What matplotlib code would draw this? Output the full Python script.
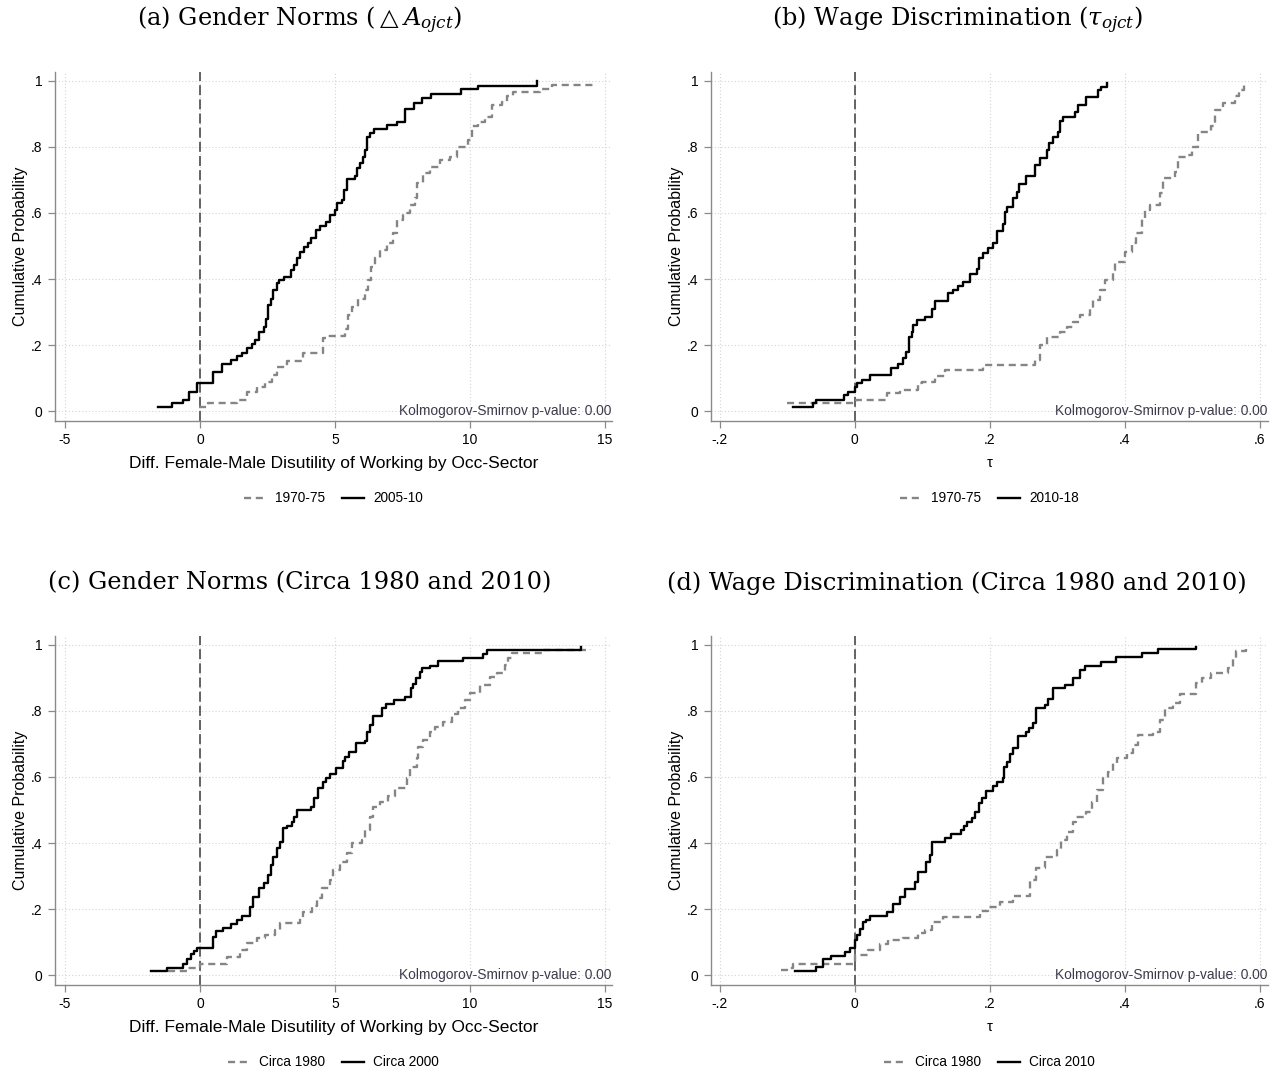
#-------------------------------------------------------------------------------------------------------------------
# Cumulative distributions of gender norms and wage discrimination across occupation-sector cells
#-------------------------------------------------------------------------------------------------------------------

import matplotlib
matplotlib.use('Agg')
import matplotlib.pyplot as plt                                      # plotting library

#==================================================================================================================#
# DATA (step corners of each empirical CDF: x value, cumulative probability)
#==================================================================================================================#

# (a) gender norms, 1970-75 vs 2005-10
norms_a_old_x = [-0.02, 0.31, 1.36, 1.73, 2.10, 2.41, 2.65, 2.84, 3.21, 3.83, 4.57, 4.75, 5.37, 5.49, 5.62, 5.86,
                 6.11, 6.23, 6.32, 6.48, 6.67, 6.91, 7.16, 7.28, 7.53, 7.78, 7.96, 8.05, 8.27, 8.52, 8.89, 9.26,
                 9.51, 9.94, 10.06, 10.31, 10.56, 10.80, 11.17, 11.36, 11.60, 12.59, 13.02, 14.69]
norms_a_old_y = [0.011, 0.025, 0.035, 0.059, 0.074, 0.089, 0.109, 0.134, 0.152, 0.177, 0.220, 0.227, 0.250, 0.291,
                 0.316, 0.338, 0.367, 0.397, 0.437, 0.463, 0.488, 0.510, 0.538, 0.579, 0.599, 0.624, 0.644, 0.690,
                 0.720, 0.740, 0.759, 0.771, 0.799, 0.821, 0.864, 0.877, 0.892, 0.927, 0.937, 0.955, 0.965, 0.975,
                 0.987, 0.987]
norms_a_new_x = [-1.54, -1.02, -0.64, -0.40, -0.12, 0.47, 0.80, 1.14, 1.36, 1.54, 1.75, 1.91, 2.04, 2.20, 2.37,
                 2.44, 2.53, 2.63, 2.72, 2.84, 2.94, 3.11, 3.36, 3.48, 3.58, 3.70, 3.85, 4.01, 4.10, 4.30, 4.44,
                 4.67, 4.81, 5.00, 5.09, 5.25, 5.33, 5.46, 5.74, 5.83, 5.93, 6.03, 6.11, 6.17, 6.30, 6.44, 6.91,
                 7.28, 7.59, 7.93, 8.21, 8.54, 9.66, 10.31, 12.49]
norms_a_new_y = [0.011, 0.025, 0.035, 0.059, 0.084, 0.119, 0.142, 0.155, 0.167, 0.177, 0.190, 0.203, 0.215, 0.240,
                 0.254, 0.278, 0.321, 0.341, 0.367, 0.387, 0.397, 0.405, 0.427, 0.442, 0.463, 0.483, 0.498, 0.510,
                 0.523, 0.548, 0.561, 0.574, 0.594, 0.609, 0.629, 0.639, 0.670, 0.702, 0.712, 0.735, 0.750, 0.769,
                 0.791, 0.831, 0.843, 0.853, 0.867, 0.877, 0.914, 0.934, 0.948, 0.961, 0.975, 0.986, 1.000]

# (b) wage discrimination, 1970-75 vs 2010-18
wage_b_old_x = [-0.101, 0.002, 0.047, 0.067, 0.094, 0.099, 0.119, 0.133, 0.190, 0.267, 0.274, 0.284, 0.304, 0.314,
                0.323, 0.333, 0.348, 0.353, 0.363, 0.370, 0.383, 0.385, 0.400, 0.410, 0.417, 0.425, 0.430, 0.437,
                0.452, 0.457, 0.474, 0.479, 0.491, 0.499, 0.509, 0.528, 0.533, 0.546, 0.563, 0.569, 0.576]
wage_b_old_y = [0.025, 0.035, 0.054, 0.064, 0.084, 0.089, 0.106, 0.124, 0.139, 0.155, 0.200, 0.225, 0.240, 0.256,
                0.271, 0.291, 0.311, 0.336, 0.367, 0.397, 0.427, 0.452, 0.483, 0.508, 0.538, 0.584, 0.609, 0.624,
                0.660, 0.705, 0.725, 0.769, 0.776, 0.799, 0.846, 0.862, 0.912, 0.934, 0.953, 0.973, 0.998]
wage_b_new_x = [-0.091, -0.062, -0.057, -0.016, -0.010, 0.000, 0.003, 0.011, 0.022, 0.053, 0.064, 0.072, 0.076,
                0.080, 0.084, 0.086, 0.092, 0.104, 0.114, 0.119, 0.138, 0.146, 0.153, 0.160, 0.171, 0.181, 0.184,
                0.190, 0.198, 0.204, 0.210, 0.219, 0.222, 0.226, 0.235, 0.240, 0.243, 0.254, 0.267, 0.274, 0.284,
                0.288, 0.294, 0.301, 0.304, 0.309, 0.326, 0.331, 0.343, 0.360, 0.365, 0.374]
wage_b_new_y = [0.011, 0.025, 0.035, 0.048, 0.059, 0.074, 0.084, 0.094, 0.109, 0.131, 0.144, 0.160, 0.180, 0.225,
                0.240, 0.261, 0.276, 0.286, 0.308, 0.334, 0.359, 0.367, 0.379, 0.392, 0.415, 0.429, 0.463, 0.478,
                0.493, 0.508, 0.546, 0.567, 0.604, 0.619, 0.644, 0.665, 0.688, 0.712, 0.745, 0.766, 0.791, 0.813,
                0.831, 0.846, 0.880, 0.892, 0.907, 0.927, 0.950, 0.973, 0.983, 0.995]

# (c) gender norms, circa 1980 vs circa 2000
norms_c_old_x = [-1.17, -0.49, 0.00, 0.99, 1.48, 1.73, 2.10, 2.41, 2.78, 2.96, 3.70, 3.83, 4.14, 4.32, 4.51, 4.81,
                 4.94, 5.19, 5.43, 5.62, 5.99, 6.11, 6.30, 6.42, 6.67, 6.98, 7.22, 7.65, 7.78, 8.02, 8.09, 8.27,
                 8.52, 8.70, 9.01, 9.32, 9.57, 9.81, 10.00, 10.37, 10.74, 10.99, 11.30, 11.42, 11.54, 12.72, 14.44]
norms_c_old_y = [0.012, 0.022, 0.035, 0.056, 0.076, 0.096, 0.111, 0.121, 0.136, 0.157, 0.174, 0.192, 0.210, 0.232,
                 0.263, 0.288, 0.318, 0.343, 0.369, 0.399, 0.409, 0.439, 0.480, 0.510, 0.525, 0.543, 0.566, 0.596,
                 0.631, 0.657, 0.692, 0.712, 0.737, 0.752, 0.768, 0.790, 0.808, 0.833, 0.854, 0.879, 0.904, 0.914,
                 0.939, 0.960, 0.975, 0.985, 0.988]
norms_c_new_x = [-1.83, -1.23, -0.64, -0.49, -0.35, -0.22, -0.12, 0.47, 0.59, 0.84, 1.14, 1.36, 1.54, 1.85, 1.98,
                 2.20, 2.37, 2.53, 2.62, 2.72, 2.84, 2.96, 3.06, 3.21, 3.40, 3.48, 3.60, 4.10, 4.22, 4.38, 4.54,
                 4.67, 4.81, 5.04, 5.28, 5.37, 5.53, 5.78, 6.11, 6.20, 6.30, 6.40, 6.73, 6.89, 7.19, 7.59, 7.80,
                 7.90, 8.00, 8.15, 8.21, 8.52, 8.80, 9.73, 10.49, 10.64, 14.10]
norms_c_new_y = [0.012, 0.022, 0.035, 0.050, 0.063, 0.073, 0.083, 0.116, 0.133, 0.143, 0.154, 0.167, 0.179, 0.207,
                 0.237, 0.263, 0.278, 0.303, 0.333, 0.359, 0.384, 0.404, 0.444, 0.452, 0.465, 0.480, 0.500, 0.510,
                 0.535, 0.566, 0.586, 0.598, 0.608, 0.628, 0.648, 0.662, 0.677, 0.702, 0.709, 0.737, 0.758, 0.786,
                 0.810, 0.820, 0.832, 0.843, 0.869, 0.881, 0.899, 0.917, 0.929, 0.937, 0.952, 0.960, 0.972, 0.985,
                 0.995]

# (d) wage discrimination, circa 1980 vs circa 2010
wage_d_old_x = [-0.109, -0.101, -0.091, 0.001, 0.020, 0.037, 0.049, 0.072, 0.094, 0.104, 0.114, 0.131, 0.185,
                0.198, 0.215, 0.235, 0.259, 0.269, 0.281, 0.299, 0.306, 0.314, 0.323, 0.328, 0.343, 0.351, 0.358,
                0.368, 0.375, 0.383, 0.388, 0.403, 0.412, 0.420, 0.442, 0.452, 0.459, 0.472, 0.481, 0.506, 0.514,
                0.528, 0.553, 0.560, 0.564, 0.580]
wage_d_old_y = [0.015, 0.022, 0.035, 0.061, 0.076, 0.093, 0.106, 0.113, 0.126, 0.136, 0.160, 0.177, 0.194, 0.207,
                0.222, 0.240, 0.288, 0.323, 0.359, 0.379, 0.409, 0.434, 0.465, 0.480, 0.495, 0.525, 0.561, 0.596,
                0.616, 0.641, 0.657, 0.672, 0.697, 0.727, 0.737, 0.773, 0.810, 0.823, 0.851, 0.884, 0.901, 0.914,
                0.929, 0.960, 0.982, 0.987]
wage_d_new_x = [-0.089, -0.057, -0.047, -0.036, -0.015, -0.007, 0.001, 0.003, 0.007, 0.012, 0.017, 0.023, 0.047,
                0.057, 0.067, 0.074, 0.089, 0.094, 0.106, 0.111, 0.115, 0.133, 0.142, 0.157, 0.161, 0.166, 0.174,
                0.178, 0.184, 0.188, 0.194, 0.205, 0.210, 0.219, 0.221, 0.225, 0.230, 0.235, 0.242, 0.254, 0.258,
                0.264, 0.268, 0.281, 0.286, 0.294, 0.311, 0.323, 0.333, 0.341, 0.365, 0.387, 0.425, 0.449, 0.506]
wage_d_new_y = [0.012, 0.025, 0.048, 0.059, 0.071, 0.083, 0.106, 0.121, 0.141, 0.160, 0.167, 0.179, 0.192, 0.214,
                0.237, 0.261, 0.283, 0.311, 0.343, 0.364, 0.402, 0.416, 0.426, 0.439, 0.452, 0.465, 0.477, 0.495,
                0.520, 0.535, 0.558, 0.574, 0.586, 0.596, 0.631, 0.646, 0.669, 0.689, 0.725, 0.735, 0.747, 0.763,
                0.808, 0.818, 0.836, 0.869, 0.879, 0.901, 0.924, 0.937, 0.949, 0.962, 0.975, 0.988, 0.995]

# panel titles, legend labels and axis labels
titles = [r'(a) Gender Norms ($\triangle A_{ojct}$)', r'(b) Wage Discrimination ($\tau_{ojct}$)',
          '(c) Gender Norms (Circa 1980 and 2010)', '(d) Wage Discrimination (Circa 1980 and 2010)']
legend_labels = [('1970-75', '2005-10'), ('1970-75', '2010-18'), ('Circa 1980', 'Circa 2000'), ('Circa 1980', 'Circa 2010')]
norms_xlabel = 'Diff. Female-Male Disutility of Working by Occ-Sector'
wage_xlabel = 'τ'
ks_text = 'Kolmogorov-Smirnov p-value: 0.00'

norms_xticks = [-5, 0, 5, 10, 15]
norms_xticklabels = ['-5', '0', '5', '10', '15']
wage_xticks = [-0.2, 0, 0.2, 0.4, 0.6]
wage_xticklabels = ['-.2', '0', '.2', '.4', '.6']
yticks = [0, 0.2, 0.4, 0.6, 0.8, 1.0]
yticklabels = ['0', '.2', '.4', '.6', '.8', '1']

#==================================================================================================================#
# CREATE THE PLOT
#==================================================================================================================#

plt.rcParams['font.family'] = ['Liberation Sans', 'DejaVu Sans']
plt.rcParams['mathtext.fontset'] = 'dejavuserif'

fig = plt.figure(figsize=(12.8, 10.73), dpi=100)

W, H = 1280, 1073
axis_color = '#8a8a8a'

# panel boxes in pixels: left, top, right, bottom
boxes = [(55, 72, 612, 421), (711, 72, 1268, 421), (55, 636, 612, 985), (711, 636, 1268, 985)]
title_pos = [(300, 20), (957, 20), (300, 583), (957, 583)]

panels = [
  (norms_a_old_x, norms_a_old_y, norms_a_new_x, norms_a_new_y, 'norms'),
  (wage_b_old_x, wage_b_old_y, wage_b_new_x, wage_b_new_y, 'wage'),
  (norms_c_old_x, norms_c_old_y, norms_c_new_x, norms_c_new_y, 'norms'),
  (wage_d_old_x, wage_d_old_y, wage_d_new_x, wage_d_new_y, 'wage'),
]

for i, (ox, oy, nx, ny, kind) in enumerate(panels):

  l, t, r, b = boxes[i]
  ax = fig.add_axes([l / W, (H - b) / H, (r - l) / W, (b - t) / H])

  # axis ranges and ticks
  if kind == 'norms':
    ax.set_xlim(-5.37, 15.26)
    ax.set_xticks(norms_xticks)
    ax.set_xticklabels(norms_xticklabels)
    ax.set_xlabel(norms_xlabel, fontsize=12.5, labelpad=6)
  else:
    ax.set_xlim(-0.213, 0.612)
    ax.set_xticks(wage_xticks)
    ax.set_xticklabels(wage_xticklabels)
    ax.set_xlabel(wage_xlabel, fontsize=10.5, labelpad=6)
  ax.set_ylim(-0.03, 1.027)
  ax.set_yticks(yticks)
  ax.set_yticklabels(yticklabels)
  ax.set_ylabel('Cumulative Probability', fontsize=11.5, labelpad=2)

  # stata-like frame: left and bottom axis only, dotted grid
  for side in ['top', 'right']:
    ax.spines[side].set_visible(False)
  for side in ['left', 'bottom']:
    ax.spines[side].set_color(axis_color)
    ax.spines[side].set_linewidth(1.0)
  ax.tick_params(axis='both', direction='out', length=5, width=0.9, color=axis_color, labelsize=10, pad=4)
  ax.grid(True, color='#d4d4d4', linestyle=(0, (1, 2)), linewidth=0.8)
  ax.set_axisbelow(True)

  # reference line at zero
  ax.axvline(0, color='#4a4a4a', linestyle=(0, (6, 2.5)), linewidth=1.2, zorder=2)

  # the two empirical CDFs
  ax.step(ox, oy, where='post', color='#858585', linestyle=(0, (3, 2)), linewidth=1.7,
          label=legend_labels[i][0], zorder=3)
  ax.step(nx, ny, where='post', color='black', linewidth=1.7, label=legend_labels[i][1], zorder=4)

  # test statistic in the lower right corner
  ax.text(0.998, 0.028, ks_text, transform=ax.transAxes, ha='right', va='center', fontsize=9.9, color='#3b3b4b')

  # legend under the panel
  ax.legend(loc='center', bbox_to_anchor=(0.5, -0.222), ncol=2, frameon=False, fontsize=9.8,
            handlelength=1.6, handletextpad=0.7, columnspacing=1.2)

  # panel title
  fig.text(title_pos[i][0] / W, 1 - title_pos[i][1] / H, titles[i], ha='center', va='center',
           fontsize=17.4, family='DejaVu Serif')

#==================================================================================================================#
# SAVE THE PLOT
#==================================================================================================================#

plt.savefig('out.png', dpi=100)
